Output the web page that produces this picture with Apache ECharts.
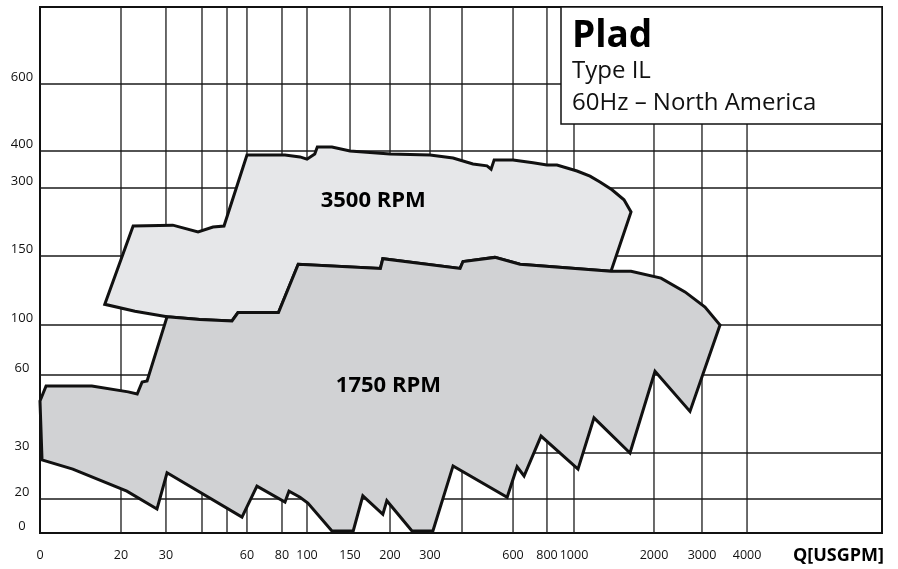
<!DOCTYPE html>
<html><head><meta charset="utf-8">
<script src="https://cdn.jsdelivr.net/npm/echarts@6/dist/echarts.min.js"></script>
<style>html,body{margin:0;padding:0;background:#fff}#c{width:898px;height:569px}</style>
</head><body><div id="c"></div>
<script>
// ---- Chart scale (non-uniform, as printed): value -> relative position on axis (0..1000)
const xScaleValues = [0, 20, 30, 40, 50, 60, 80, 100, 150, 200, 300, 400, 600, 800, 1000, 2000, 3000, 4000, 10000];
const xScalePos    = [0, 96.2, 149.6, 192.4, 222.1, 245.8, 287.4, 317.1, 368.2, 415.7, 463.2, 501.2, 561.8, 602.1, 634.2, 729.2, 786.2, 839.7, 1000];
const yScaleValues = [0, 20, 30, 60, 100, 150, 300, 400, 600, 1000];
const yScalePos    = [0, 64.6, 152.1, 300.4, 395.4, 526.6, 655.9, 726.2, 853.6, 1000];

// ---- Grid lines and tick labels
const xGridValues = [20, 30, 40, 50, 60, 80, 100, 150, 200, 300, 400, 600, 800, 1000, 2000, 3000, 4000];
const yGridValues = [20, 30, 60, 100, 150, 300, 400, 600];
const xTickLabels = [0, 20, 30, 60, 80, 100, 150, 200, 300, 600, 800, 1000, 2000, 3000, 4000];
const yTickLabels = [0, 20, 30, 60, 100, 150, 300, 400, 600];

// ---- Coverage areas: [Q (USGPM), H]
const area3500 = [
  [16, 115], [22.7, 216], [31.9, 218], [38.9, 203], [44.4, 214], [48.8, 216], [60, 389], [82.4, 389],
  [94.4, 384], [100, 378], [109, 392], [112, 412], [129, 412], [150, 400], [200, 392], [300, 389],
  [372, 381], [443, 365], [498, 360], [514, 351], [526, 376], [600, 376], [718, 368], [800, 362],
  [874, 362], [1038, 346], [1200, 332], [1325, 316], [1475, 296], [1625, 274], [1713, 247],
  [1463, 139], [641, 144], [529, 149], [404, 146], [394, 141], [191, 148], [188, 141], [93, 144],
  [78, 109], [55.5, 109], [52.5, 103], [39.4, 104], [30.3, 106], [23.1, 110]
];
const area1750 = [
  [30.3, 106], [39.4, 104], [52.5, 103], [55.5, 109], [78, 109], [93, 144], [188, 141], [191, 148],
  [394, 141], [404, 146], [529, 149], [641, 144], [1463, 139], [1713, 139], [2146, 134], [2646, 124],
  [3067, 113], [3400, 100], [2750, 46], [2021, 63], [1700, 30], [1250, 43.5], [1050, 26.5], [765, 36.5],
  [665, 25], [624, 27], [577, 20.4], [372, 27.2], [309, 1.2], [255, 1.2], [196, 19], [191, 11],
  [166, 20.7], [154, 1.2], [129, 1.2], [101, 17.6], [94.4, 20.4], [85.6, 21.7], [82.4, 18.2],
  [65.7, 22.8], [57.5, 9.4], [30.3, 25.7], [28, 14.1], [21.3, 21.7], [8.1, 26.5], [0.5, 28.5],
  [0, 50], [1.5, 55.8], [12.8, 55.8], [21.6, 53.5], [23.6, 52.7], [24.7, 57.3], [25.8, 57.7]
];
const areaLabels = ['3500 RPM', '1750 RPM'];
const areaLabelQ = [179, 198];
const areaLabelH = [271, 56];

// ---- scale helpers
function toUnit(v, vals, pos) {
  for (let i = 0; i < vals.length - 1; i++) {
    if (v <= vals[i + 1] || i === vals.length - 2) {
      return pos[i] + (v - vals[i]) / (vals[i + 1] - vals[i]) * (pos[i + 1] - pos[i]);
    }
  }
}
const xu = v => toUnit(v, xScaleValues, xScalePos);
const yu = v => toUnit(v, yScaleValues, yScalePos);
function labelFor(u, labels, f) {
  for (const l of labels) if (Math.abs(f(l) - u) < 0.5) return String(l);
  return '';
}

const FONT = "'Open Sans', 'Noto Sans', sans-serif";
const INK = '#111';

function gridSeries(values, vertical) {
  return {
    type: 'custom', coordinateSystem: 'cartesian2d', silent: true, z: 1, animation: false,
    data: values.map(v => vertical ? [xu(v), 0] : [0, yu(v)]),
    renderItem: (params, api) => {
      const a = vertical ? api.coord([api.value(0), 0]) : api.coord([0, api.value(1)]);
      const b = vertical ? api.coord([api.value(0), 1000]) : api.coord([1000, api.value(1)]);
      return { type: 'line', shape: { x1: a[0], y1: a[1], x2: b[0], y2: b[1] },
               style: { stroke: '#1a1a1a', lineWidth: 1.3 } };
    }
  };
}
function areaSeries(points, fill, z) {
  const pts = points.map(p => [xu(p[0]), yu(p[1])]);
  return {
    type: 'custom', coordinateSystem: 'cartesian2d', silent: true, z: z, animation: false,
    data: pts,
    renderItem: (params, api) => {
      if (params.dataIndex !== 0) return null;
      return { type: 'polygon', shape: { points: pts.map(p => api.coord(p)) },
               style: { fill: fill, stroke: INK, lineWidth: 3, lineJoin: 'miter' } };
    }
  };
}

const chart = echarts.init(document.getElementById('c'), null, { renderer: 'canvas' });
chart.setOption({
  animation: false,
  backgroundColor: '#fff',
  grid: { left: 40, right: 16, top: 7, bottom: 36, show: true, borderColor: INK, borderWidth: 2,
          backgroundColor: '#fff', containLabel: false, outerBoundsMode: 'none' },
  xAxis: {
    type: 'value', min: 0, max: 1000,
    axisLine: { show: false }, axisTick: { show: false }, splitLine: { show: false },
    axisLabel: { customValues: xTickLabels.map(xu), formatter: v => labelFor(v, xTickLabels, xu),
                 fontFamily: FONT, fontSize: 12.5, color: INK, margin: 16 }
  },
  yAxis: {
    type: 'value', min: 0, max: 1000,
    axisLine: { show: false }, axisTick: { show: false }, splitLine: { show: false },
    axisLabel: { customValues: yTickLabels.map(yu), formatter: v => labelFor(v, yTickLabels, yu),
                 fontFamily: FONT, fontSize: 13, color: INK, margin: 18, align: 'center',
                 verticalAlign: 'bottom' }
  },
  series: [
    gridSeries(xGridValues, true),
    gridSeries(yGridValues, false),
    areaSeries(area3500, '#e6e7e9', 3),
    areaSeries(area1750, '#d1d2d4', 4),
    {
      type: 'custom', coordinateSystem: 'cartesian2d', silent: true, z: 6, animation: false,
      data: areaLabels.map((t, i) => [xu(areaLabelQ[i]), yu(areaLabelH[i])]),
      renderItem: (params, api) => {
        const p = api.coord([api.value(0), api.value(1)]);
        return { type: 'text', style: { text: areaLabels[params.dataIndex], x: p[0], y: p[1],
          font: "bold 22px 'Open Sans', sans-serif", fill: '#000', align: 'center', verticalAlign: 'middle' } };
      }
    }
  ],
  graphic: [
    { type: 'rect', z: 100, shape: { x: 561, y: 7, width: 321, height: 117 },
      style: { fill: '#fff', stroke: INK, lineWidth: 1.5 } },
    { type: 'text', z: 101, style: { text: 'Plad', x: 572, y: 36, font: "bold 37px 'Open Sans', sans-serif",
      fill: '#000', verticalAlign: 'middle' } },
    { type: 'text', z: 101, style: { text: 'Type IL', x: 572, y: 71, font: "24px 'Open Sans', sans-serif",
      fill: INK, verticalAlign: 'middle' } },
    { type: 'text', z: 101, style: { text: '60Hz – North America', x: 572, y: 103, font: "24px 'Open Sans', sans-serif",
      fill: INK, verticalAlign: 'middle' } },
    { type: 'text', z: 101, style: { text: 'Q[USGPM]', x: 884, y: 556, font: "bold 18px 'Open Sans', sans-serif",
      fill: '#000', align: 'right', verticalAlign: 'middle' } }
  ]
});
</script>
</body></html>
